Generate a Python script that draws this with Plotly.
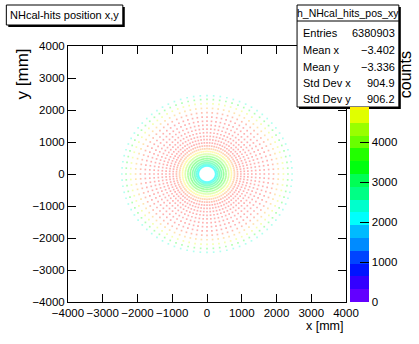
import math
import plotly.graph_objects as go

# ---------------- data ----------------
ring_radius_mm = [250, 300, 355, 415, 480, 550, 625, 705, 790, 880, 975, 1075,
                  1180, 1290, 1405, 1525, 1650, 1780, 1915, 2055, 2200, 2330, 2450]
ring_counts = [2100, 2300, 2600, 2900, 3300, 3800, 4400, 5000, 5500, 5900, 6100, 6200,
               6300, 6300, 6300, 6200, 6200, 6100, 5900, 5400, 4700, 3500, 2300]
n_spokes = 80

axis_tick_vals = [-4000, -3000, -2000, -1000, 0, 1000, 2000, 3000, 4000]
axis_tick_text = ["\u22124000", "\u22123000", "\u22122000", "\u22121000", "0",
                  "1000", "2000", "3000", "4000"]
z_tick_vals = [0, 1000, 2000, 3000, 4000]
z_tick_text = ["0", "1000", "2000", "3000", "4000"]
z_max = 6400
n_levels = 20

title_text = "NHcal-hits position x,y"
hist_name = "h_NHcal_hits_pos_xy"
stat_labels = ["Entries", "Mean x", "Mean y", "Std Dev x", "Std Dev y"]
stat_values = ["6380903", "\u22123.402", "\u22123.336", "904.9", "906.2"]

# ROOT "pretty" palette, 20 contour levels
palette = ["#6300ff", "#3300ff", "#0014ff", "#0044ff", "#008bff", "#00bbff",
           "#00fffc", "#00ffcc", "#00ff85", "#00ff55", "#00ff0e", "#22ff00",
           "#69ff00", "#99ff00", "#e0ff00", "#ffee00", "#ffa700", "#ff7700",
           "#ff3000", "#ff0000"]

# ---------------- geometry ----------------
W, H = 419, 344
L, R, T, B = 68, 352, 46, 302
FONT = "Liberation Sans, Arial"


def px(x):
    return (x - L) / (R - L)


def py(y):
    return (B - y) / (B - T)


# points of the polar cell grid
xs, ys, cs = [], [], []
for r, c in zip(ring_radius_mm, ring_counts):
    for j in range(n_spokes):
        a = 2 * math.pi * j / n_spokes
        xs.append(r * math.cos(a))
        ys.append(r * math.sin(a))
        cs.append(c)

step = z_max / n_levels
cscale = []
for k, col in enumerate(palette):
    cscale.append([k / n_levels, col])
    cscale.append([(k + 1) / n_levels, col])

# colour bar visible below the stats box
stats_box = dict(x0=302, x1=406, y0=5, y1=107)
z_vis_top = z_max * (B - stats_box["y1"]) / (B - T)
cscale_vis = []
for k, col in enumerate(palette):
    lo, hi = k * step, (k + 1) * step
    if lo >= z_vis_top:
        break
    cscale_vis.append([lo / z_vis_top, col])
    cscale_vis.append([min(hi, z_vis_top) / z_vis_top, col])

fig = go.Figure()
fig.add_trace(go.Scatter(
    x=xs, y=ys, mode="markers", showlegend=False, hoverinfo="skip",
    marker=dict(symbol="square", size=1.7, color=cs, colorscale=cscale,
                cmin=0, cmax=z_max, opacity=0.3, line=dict(width=0),
                showscale=False)))

fig.add_trace(go.Scatter(
    x=[-9999], y=[-9999], mode="markers", showlegend=False, hoverinfo="skip",
    marker=dict(color=[0], colorscale=cscale_vis, cmin=0, cmax=z_vis_top,
                showscale=True,
                colorbar=dict(
                    x=px(356), xanchor="left", xpad=0, ypad=0,
                    y=0, yanchor="bottom", len=B - stats_box["y1"], lenmode="pixels",
                    thickness=19, thicknessmode="pixels", outlinewidth=0,
                    ticks="inside", ticklen=9, tickwidth=1, tickcolor="black",
                    tickvals=z_tick_vals, ticktext=z_tick_text,
                    tickfont=dict(family=FONT, size=11.5, color="black")))))

axis_common = dict(
    range=[-4000, 4000], tickvals=axis_tick_vals, ticktext=axis_tick_text,
    ticks="inside", ticklen=8, tickwidth=1, tickcolor="black", tickangle=0,
    showline=True, linecolor="black", linewidth=1, mirror="ticks",
    showgrid=False, zeroline=False,
    tickfont=dict(family=FONT, size=11.5, color="black"))

fig.update_layout(
    width=W, height=H,
    margin=dict(l=L, r=W - R, t=T, b=H - B, pad=0),
    paper_bgcolor="white", plot_bgcolor="white",
    xaxis=dict(**axis_common),
    yaxis=dict(**axis_common),
)

shapes = []
# title box with shadow
tb = dict(x0=5, x1=124, y0=5, y1=25)
shapes.append(dict(type="rect", xref="paper", yref="paper",
                   x0=px(tb["x0"] + 2), x1=px(tb["x1"] + 2), y0=py(tb["y1"] + 2), y1=py(tb["y0"] + 2),
                   fillcolor="black", line=dict(width=0)))
shapes.append(dict(type="rect", xref="paper", yref="paper",
                   x0=px(tb["x0"]), x1=px(tb["x1"]), y0=py(tb["y1"]), y1=py(tb["y0"]),
                   fillcolor="white", line=dict(color="black", width=1)))
# stats box with shadow
sb = stats_box
shapes.append(dict(type="rect", xref="paper", yref="paper",
                   x0=px(sb["x0"] + 2), x1=px(sb["x1"] + 2), y0=py(sb["y1"] + 2), y1=py(sb["y0"] + 2),
                   fillcolor="black", line=dict(width=0)))
shapes.append(dict(type="rect", xref="paper", yref="paper",
                   x0=px(sb["x0"]), x1=px(sb["x1"]), y0=py(sb["y1"]), y1=py(sb["y0"]),
                   fillcolor="white", line=dict(color="black", width=1)))
shapes.append(dict(type="line", xref="paper", yref="paper",
                   x0=px(sb["x0"]), x1=px(sb["x1"]), y0=py(21), y1=py(21),
                   line=dict(color="black", width=1)))
fig.update_layout(shapes=shapes)

ann = []


def add_text(text, x, y, size, xanchor="center", yanchor="middle", angle=0):
    ann.append(dict(text=text, x=px(x), y=py(y), xref="paper", yref="paper",
                    showarrow=False, xanchor=xanchor, yanchor=yanchor, textangle=angle,
                    font=dict(family=FONT, size=size, color="black")))


add_text(title_text, (tb["x0"] + tb["x1"]) / 2, 15, 11)
add_text(hist_name, (sb["x0"] + sb["x1"]) / 2, 13, 10.5)
row_y = [33, 50, 66.5, 83, 99]
for lab, val, yy in zip(stat_labels, stat_values, row_y):
    add_text(lab, 306, yy, 11, xanchor="left")
    add_text(val, 404, yy, 11, xanchor="right")

add_text("x [mm]", 352, 326, 12.5, xanchor="right")
add_text("y [mm]", 22, 73.5, 17, angle=-90)
add_text("counts", 413, 74.5, 16, angle=-90)
fig.update_layout(annotations=ann)

fig.write_html("out.html", config={"displayModeBar": False},
               post_script="document.body.style.margin='0px';")
